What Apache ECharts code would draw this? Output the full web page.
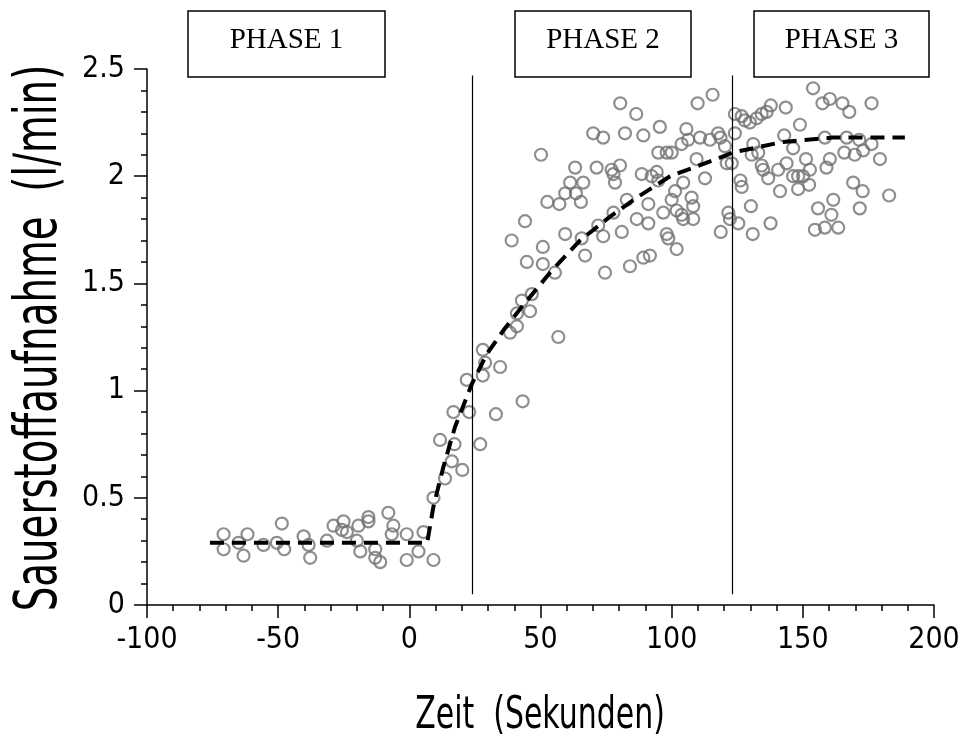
<!DOCTYPE html>
<html>
<head>
<meta charset="utf-8">
<script src="https://cdn.jsdelivr.net/npm/echarts@6/dist/echarts.min.js"></script>
<style>
  html, body { margin: 0; padding: 0; background: #fff; }
  #chart { width: 965px; height: 749px; }
</style>
</head>
<body>
<div id="chart"></div>
<script>
// Oxygen uptake measurements (time in s, uptake in l/min)
const oxygenTime = [
  -70.8, -70.8, -65.1, -63.2, -61.7, -55.6, -50.5, -48.6, -47.7, -40.3,
  -38.4, -37.8, -31.4, -28.9, -25.7, -25.1, -23.8, -19.4, -20.0, -18.7,
  -15.6, -15.6, -13.0, -13.0, -11.1, -8.0, -6.1, -6.7, -1.0, -1.0,
  3.5, 5.4, 9.2, 9.2,
  13.6, 16.2, 20.2, 11.7, 17.2, 27.0, 16.8, 22.8, 33.0, 43.2,
  21.9, 28.0, 34.6, 28.9, 28.0, 38.4, 56.8,
  41.0, 41.0, 46.0, 42.9, 46.7, 39.0, 44.1, 44.8, 50.9, 50.9,
  55.5, 50.2, 52.6, 57.2, 59.4, 61.3, 63.2, 63.5, 65.4, 66.3,
  59.4, 65.7, 67.0, 71.4, 72.0, 73.9, 74.6, 77.1, 77.8, 78.4,
  80.3, 77.8, 81.0, 82.9, 84.1, 86.7, 88.6, 89.2, 91.7, 91.1,
  91.1, 92.4, 94.3, 94.9, 94.9, 98.1, 100.0, 96.8, 98.1, 98.7,
  101.9, 100.0, 101.3, 104.4, 101.9, 103.8, 104.4, 107.6, 108.2, 108.2,
  103.8, 106.3, 109.5, 112.7, 110.8, 114.6, 118.7, 70.1, 73.9, 82.2,
  89.2, 80.4, 86.5, 95.5, 105.6,
  109.9, 115.6, 124.1, 126.7, 127.9, 129.8, 132.4, 134.3, 136.2, 137.8,
  143.5, 148.9, 153.9, 157.5, 160.3, 165.1, 167.7, 176.2, 117.7, 118.6,
  124.1, 120.3, 121.0, 122.9, 126.2, 126.7, 131.1, 130.5, 133.0, 134.3,
  134.9, 136.8, 140.6, 141.3, 142.9, 143.8, 146.3, 146.3, 148.2, 150.1,
  148.2, 151.2, 152.7, 152.4, 158.4, 159.0, 160.3, 165.8, 166.7, 169.8,
  171.5, 173.0, 176.2, 179.4, 169.2, 172.8, 182.9, 171.7, 161.6, 155.8,
  160.9, 154.6, 158.4, 163.5, 121.6, 122.2, 125.4, 130.2, 137.7, 130.9
];
const oxygenUptake = [
  0.33, 0.26, 0.29, 0.23, 0.33, 0.28, 0.29, 0.38, 0.26, 0.32,
  0.28, 0.22, 0.30, 0.37, 0.35, 0.39, 0.34, 0.37, 0.30, 0.25,
  0.41, 0.39, 0.26, 0.22, 0.20, 0.43, 0.37, 0.33, 0.33, 0.21,
  0.25, 0.34, 0.21, 0.50,
  0.59, 0.67, 0.63, 0.77, 0.75, 0.75, 0.90, 0.90, 0.89, 0.95,
  1.05, 1.07, 1.11, 1.13, 1.19, 1.27, 1.25,
  1.30, 1.36, 1.37, 1.42, 1.45, 1.70, 1.79, 1.60, 1.67, 1.59,
  1.55, 2.10, 1.88, 1.87, 1.92, 1.97, 2.04, 1.92, 1.88, 1.97,
  1.73, 1.71, 1.63, 2.04, 1.77, 1.72, 1.55, 2.03, 2.01, 1.97,
  2.05, 1.83, 1.74, 1.89, 1.58, 1.80, 2.01, 1.62, 1.63, 1.87,
  1.78, 2.00, 2.02, 1.98, 2.11, 2.11, 2.11, 1.83, 1.73, 1.71,
  1.66, 1.89, 1.93, 1.97, 1.84, 1.82, 1.80, 1.90, 1.86, 1.80,
  2.15, 2.17, 2.08, 1.99, 2.18, 2.17, 1.74, 2.20, 2.18, 2.20,
  2.19, 2.34, 2.29, 2.23, 2.22,
  2.34, 2.38, 2.29, 2.28, 2.26, 2.25, 2.27, 2.29, 2.30, 2.33,
  2.32, 2.24, 2.41, 2.34, 2.36, 2.34, 2.30, 2.34, 2.20, 2.18,
  2.20, 2.14, 2.06, 2.06, 1.98, 1.95, 2.15, 2.10, 2.11, 2.05,
  2.03, 1.99, 2.03, 1.93, 2.19, 2.06, 2.13, 2.00, 2.00, 2.00,
  1.94, 2.08, 2.03, 1.96, 2.18, 2.04, 2.08, 2.11, 2.18, 2.10,
  2.17, 2.12, 2.15, 2.08, 1.97, 1.93, 1.91, 1.85, 1.89, 1.85,
  1.82, 1.75, 1.76, 1.76, 1.83, 1.80, 1.78, 1.86, 1.78, 1.73
];

// Fitted response curve (baseline, then mono-exponential rise)
const fitTime = [-76, 6.8, 9.2, 13.0, 17.4, 23.8, 29.5, 35.8, 42.2, 53.6, 65.0, 76.4, 86.7, 99.4, 117.1, 123.1, 142.5, 161.4, 188.9];
const fitUptake = [0.29, 0.29, 0.46, 0.645, 0.83, 1.03, 1.17, 1.28, 1.38, 1.55, 1.70, 1.81, 1.90, 2.00, 2.08, 2.11, 2.16, 2.18, 2.18];

// Phase boundaries (s) and phase captions
const phaseBoundaries = [24, 123];
const phaseLabels = ['PHASE 1', 'PHASE 2', 'PHASE 3'];
const xTitle = 'Zeit  (Sekunden)';
const yTitle = 'Sauerstoffaufnahme  (l/min)';

const axisFont = "'DejaVu Sans Condensed', 'DejaVu Sans', sans-serif";
const captionFont = "'Liberation Serif', 'Times New Roman', serif";

const points = oxygenTime.map((t, i) => [t, oxygenUptake[i]]);
const fitLine = fitTime.map((t, i) => [t, fitUptake[i]]);

// caption boxes above the plot
const boxes = [
  { x: 188, w: 197 },
  { x: 515, w: 176 },
  { x: 754, w: 175 }
];
const graphic = [];
boxes.forEach((b, i) => {
  graphic.push({
    type: 'rect',
    shape: { x: b.x, y: 11, width: b.w, height: 66 },
    style: { fill: '#fff', stroke: '#000', lineWidth: 1.5 },
    z: 10
  });
  graphic.push({
    type: 'text',
    x: b.x + b.w / 2,
    y: 40,
    style: {
      text: phaseLabels[i],
      font: '29px ' + captionFont,
      fill: '#000',
      textAlign: 'center',
      textVerticalAlign: 'middle'
    },
    z: 11
  });
});

// axis titles in a tall, narrow lettering
graphic.push({
  type: 'text',
  x: 540, y: 716,
  scaleX: 0.74, scaleY: 1,
  style: {
    text: xTitle,
    font: '45px ' + axisFont,
    fill: '#000',
    textAlign: 'center',
    textVerticalAlign: 'middle'
  }
});
graphic.push({
  type: 'text',
  x: 41, y: 338,
  rotation: Math.PI / 2,
  scaleX: 0.73, scaleY: 1,
  style: {
    text: yTitle,
    font: '59px ' + axisFont,
    fill: '#000',
    textAlign: 'center',
    textVerticalAlign: 'middle'
  }
});

const chart = echarts.init(document.getElementById('chart'), null, { renderer: 'canvas' });
chart.setOption({
  animation: false,
  backgroundColor: '#fff',
  grid: { left: 147, right: 31, top: 69, bottom: 144, containLabel: false, outerBoundsMode: 'none' },
  xAxis: {
    type: 'value',
    min: -100, max: 200, interval: 50,
    axisLine: { show: true, onZero: false, lineStyle: { color: '#000', width: 1.5 } },
    axisTick: { show: true, inside: false, length: 13, lineStyle: { color: '#000', width: 1.5 } },
    minorTick: { show: true, splitNumber: 5, length: 6, lineStyle: { color: '#000', width: 1.5 } },
    axisLabel: { fontFamily: axisFont, fontSize: 30, color: '#000', margin: 20 },
    splitLine: { show: false }
  },
  yAxis: {
    type: 'value',
    min: 0, max: 2.5, interval: 0.5,
    axisLine: { show: true, onZero: false, lineStyle: { color: '#000', width: 1.5 } },
    axisTick: { show: true, inside: false, length: 13, lineStyle: { color: '#000', width: 1.5 } },
    minorTick: { show: true, splitNumber: 5, length: 6, lineStyle: { color: '#000', width: 1.5 } },
    axisLabel: { fontFamily: axisFont, fontSize: 30, color: '#000', margin: 22 },
    splitLine: { show: false }
  },
  graphic: graphic,
  series: [
    {
      name: 'Messwerte',
      type: 'scatter',
      data: points,
      symbol: 'circle',
      symbolSize: 12,
      itemStyle: { color: 'rgba(0,0,0,0)', borderColor: '#727272', borderWidth: 2.2 },
      z: 2,
      markLine: {
        silent: true,
        symbol: ['none', 'none'],
        label: { show: false },
        lineStyle: { color: '#000', width: 1.2, type: 'solid' },
        data: phaseBoundaries.map(t => [{ coord: [t, 0.05] }, { coord: [t, 2.47] }])
      }
    },
    {
      name: 'Anpassung',
      type: 'line',
      data: fitLine,
      showSymbol: false,
      smooth: false,
      lineStyle: { color: '#000', width: 4, type: [14, 8], cap: 'butt' },
      z: 5
    }
  ]
});
</script>
</body>
</html>
